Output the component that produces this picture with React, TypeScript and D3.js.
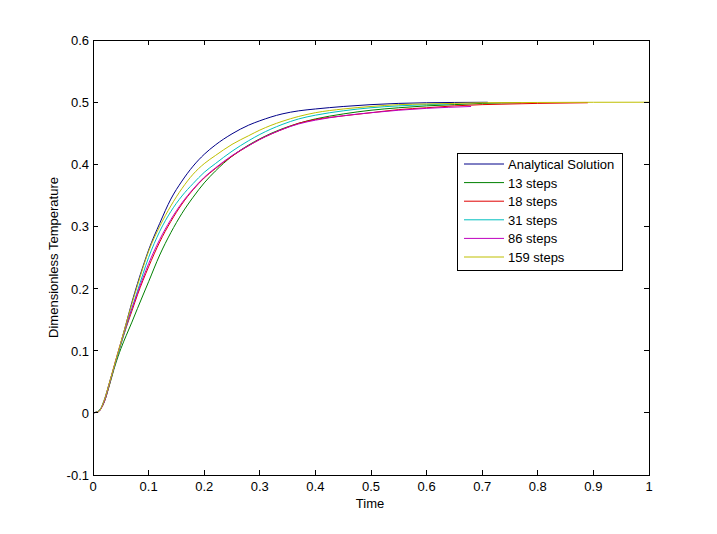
import React from "react";
import * as d3 from "d3";

const xTicks = [0, 0.1, 0.2, 0.3, 0.4, 0.5, 0.6, 0.7, 0.8, 0.9, 1];
const yTicks = [-0.1, 0, 0.1, 0.2, 0.3, 0.4, 0.5, 0.6];
const xTickLabels = ["0", "0.1", "0.2", "0.3", "0.4", "0.5", "0.6", "0.7", "0.8", "0.9", "1"];
const yTickLabels = ["-0.1", "0", "0.1", "0.2", "0.3", "0.4", "0.5", "0.6"];

const seriesNames = ["Analytical Solution", "13 steps", "18 steps", "31 steps", "86 steps", "159 steps"];
const seriesColors = ["#000088", "#008000", "#e00000", "#00bfbf", "#bf00bf", "#bfbf00"];

const analyticalT = [0, 0.01, 0.02, 0.03, 0.04, 0.05, 0.06, 0.07, 0.08, 0.09, 0.1, 0.12, 0.14, 0.16, 0.18, 0.2, 0.22, 0.25, 0.28, 0.3, 0.34, 0.37, 0.4, 0.45, 0.5, 0.55, 0.6, 0.65, 0.71];
const analyticalV = [0, 0.002, 0.02, 0.05, 0.08, 0.112, 0.145, 0.178, 0.208, 0.236, 0.262, 0.305, 0.344, 0.373, 0.397, 0.416, 0.431, 0.449, 0.463, 0.47, 0.481, 0.486, 0.489, 0.493, 0.496, 0.498, 0.499, 0.4995, 0.4998];

const steps13T = [0, 0.01, 0.02, 0.03, 0.04, 0.05, 0.06, 0.07, 0.08, 0.1, 0.12, 0.14, 0.16, 0.18, 0.2, 0.22, 0.25, 0.28, 0.3, 0.34, 0.37, 0.4, 0.45, 0.5, 0.55, 0.6, 0.65, 0.7, 0.77];
const steps13V = [0, 0.003, 0.017, 0.046, 0.077, 0.103, 0.125, 0.146, 0.168, 0.211, 0.254, 0.29, 0.321, 0.347, 0.37, 0.389, 0.413, 0.431, 0.441, 0.457, 0.466, 0.473, 0.481, 0.487, 0.491, 0.494, 0.496, 0.498, 0.499];

const steps18T = [0, 0.01, 0.02, 0.03, 0.04, 0.05, 0.06, 0.07, 0.08, 0.1, 0.12, 0.14, 0.16, 0.18, 0.2, 0.22, 0.25, 0.28, 0.3, 0.34, 0.37, 0.4, 0.45, 0.5, 0.55, 0.6, 0.65, 0.7, 0.75, 0.8, 0.89];
const steps18V = [0, 0.003, 0.017, 0.047, 0.08, 0.11, 0.138, 0.164, 0.19, 0.235, 0.275, 0.308, 0.336, 0.359, 0.378, 0.393, 0.413, 0.43, 0.44, 0.456, 0.466, 0.472, 0.478, 0.483, 0.488, 0.491, 0.494, 0.496, 0.497, 0.498, 0.499];

const steps31T = [0, 0.01, 0.02, 0.03, 0.04, 0.05, 0.06, 0.07, 0.08, 0.1, 0.12, 0.14, 0.16, 0.18, 0.2, 0.22, 0.25, 0.28, 0.3, 0.34, 0.37, 0.4, 0.45, 0.5, 0.55, 0.6, 0.64];
const steps31V = [0, 0.003, 0.018, 0.048, 0.08, 0.11, 0.14, 0.168, 0.196, 0.25, 0.292, 0.324, 0.349, 0.369, 0.387, 0.401, 0.421, 0.438, 0.448, 0.464, 0.473, 0.479, 0.486, 0.491, 0.494, 0.496, 0.497];

const steps86T = [0, 0.01, 0.02, 0.03, 0.04, 0.05, 0.06, 0.07, 0.08, 0.1, 0.12, 0.14, 0.16, 0.18, 0.2, 0.22, 0.25, 0.28, 0.3, 0.34, 0.37, 0.4, 0.45, 0.5, 0.55, 0.6, 0.68];
const steps86V = [0, 0.002, 0.018, 0.049, 0.082, 0.113, 0.142, 0.168, 0.193, 0.24, 0.279, 0.311, 0.338, 0.36, 0.379, 0.394, 0.414, 0.43, 0.44, 0.456, 0.465, 0.471, 0.478, 0.483, 0.487, 0.49, 0.493];

const steps159T = [0, 0.01, 0.02, 0.03, 0.04, 0.05, 0.06, 0.07, 0.08, 0.09, 0.1, 0.12, 0.14, 0.16, 0.18, 0.2, 0.22, 0.25, 0.28, 0.3, 0.34, 0.37, 0.4, 0.45, 0.5, 0.55, 0.6, 0.65, 0.7, 0.8, 0.9, 1.0];
const steps159V = [0, 0.002, 0.02, 0.05, 0.082, 0.113, 0.145, 0.176, 0.205, 0.234, 0.26, 0.3, 0.333, 0.361, 0.384, 0.401, 0.414, 0.432, 0.446, 0.455, 0.469, 0.477, 0.483, 0.489, 0.493, 0.496, 0.497, 0.498, 0.499, 0.4995, 0.4998, 0.4999];

const seriesT = [analyticalT, steps13T, steps18T, steps31T, steps86T, steps159T];
const seriesV = [analyticalV, steps13V, steps18V, steps31V, steps86V, steps159V];

const W = 717;
const H = 534;
const M = { left: 93, right: 649, top: 40, bottom: 475 };
const FONT = "'Liberation Sans', Arial, sans-serif";
const FS = 13;

export default function App() {
  const x = d3.scaleLinear().domain([0, 1]).range([M.left, M.right]);
  const y = d3.scaleLinear().domain([-0.1, 0.6]).range([M.bottom, M.top]);
  const line = d3
    .line<[number, number]>()
    .x((d) => x(d[0]))
    .y((d) => y(d[1]))
    .curve(d3.curveMonotoneX);

  const tickLen = 5;
  const legX = 457;
  const legY = 153;
  const legW = 165;
  const legH = 117;
  const rowH = 18.6;

  return (
    <svg
      width={W}
      height={H}
      style={{ position: "absolute", left: 0, top: 0, background: "#fff" }}
      fontFamily={FONT}
    >
      <rect x={0} y={0} width={W} height={H} fill="#fff" />
      {seriesT.map((ts, i) => (
        <path
          key={i}
          d={line(ts.map((t, j) => [t, seriesV[i][j]] as [number, number])) || ""}
          fill="none"
          stroke={seriesColors[i]}
          strokeWidth={1}
        />
      ))}
      <rect
        x={M.left}
        y={M.top}
        width={M.right - M.left}
        height={M.bottom - M.top}
        fill="none"
        stroke="#000"
        strokeWidth={1}
        shapeRendering="crispEdges"
      />
      {xTicks.map((t, i) => (
        <g key={"xt" + i} shapeRendering="crispEdges">
          <line x1={x(t)} x2={x(t)} y1={M.bottom} y2={M.bottom - tickLen} stroke="#000" />
          <line x1={x(t)} x2={x(t)} y1={M.top} y2={M.top + tickLen} stroke="#000" />
          <text x={x(t)} y={M.bottom + 16} fontSize={FS} textAnchor="middle" fill="#000">
            {xTickLabels[i]}
          </text>
        </g>
      ))}
      {yTicks.map((t, i) => (
        <g key={"yt" + i} shapeRendering="crispEdges">
          <line x1={M.left} x2={M.left + tickLen} y1={y(t)} y2={y(t)} stroke="#000" />
          <line x1={M.right} x2={M.right - tickLen} y1={y(t)} y2={y(t)} stroke="#000" />
          <text x={M.left - 4} y={y(t) + 5} fontSize={FS} textAnchor="end" fill="#000">
            {yTickLabels[i]}
          </text>
        </g>
      ))}
      <text x={(M.left + M.right) / 2 - 1} y={508} fontSize={FS} textAnchor="middle" fill="#000">
        Time
      </text>
      <text
        transform={`translate(58, ${(M.top + M.bottom) / 2}) rotate(-90)`}
        fontSize={FS}
        textAnchor="middle"
        fill="#000"
      >
        Dimensionless Temperature
      </text>
      <rect
        x={legX}
        y={legY}
        width={legW}
        height={legH}
        fill="#fff"
        stroke="#000"
        strokeWidth={1}
        shapeRendering="crispEdges"
      />
      {seriesNames.map((name, i) => (
        <g key={"lg" + i}>
          <line
            x1={legX + 7}
            x2={legX + 47}
            y1={legY + 11 + i * rowH}
            y2={legY + 11 + i * rowH}
            stroke={seriesColors[i]}
            strokeWidth={1}
          />
          <text x={legX + 51} y={legY + 16 + i * rowH} fontSize={FS} fill="#000">
            {name}
          </text>
        </g>
      ))}
    </svg>
  );
}
